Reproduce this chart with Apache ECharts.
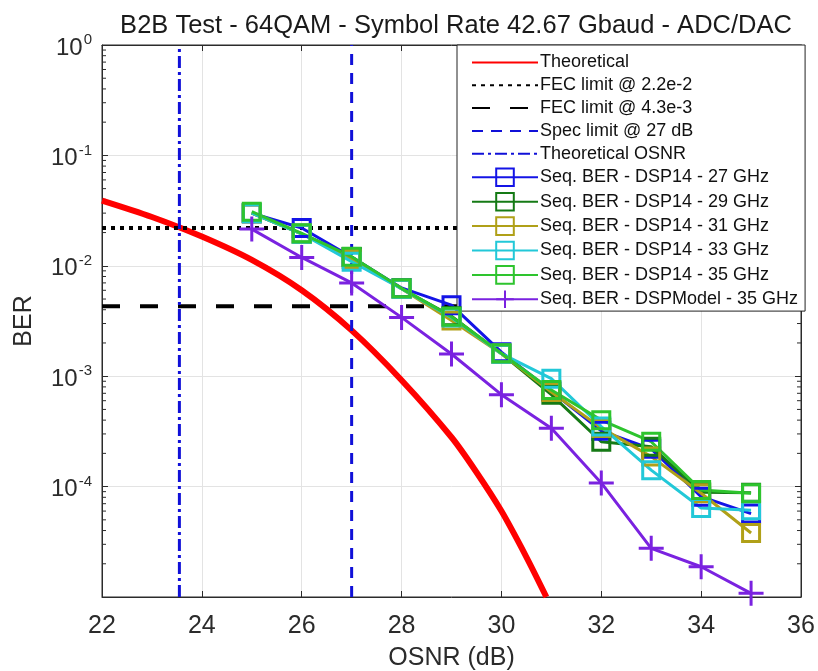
<!DOCTYPE html>
<html><head><meta charset="utf-8">
<script src="https://cdn.jsdelivr.net/npm/echarts@6/dist/echarts.min.js"></script>
<style>html,body{margin:0;padding:0;background:#fff}#c{width:818px;height:671px}</style>
</head><body><div id="c"></div>
<script>
const titleText = 'B2B Test - 64QAM - Symbol Rate 42.67 Gbaud - ADC/DAC';
const osnr = [25, 26, 27, 28, 29, 30, 31, 32, 33, 34, 35];
const theoOsnr = [22, 23, 24, 25, 26, 27, 28, 29, 29.5, 30, 30.5, 30.9];
const theoBer = [3.9e-2, 2.77e-2, 1.84e-2, 1.13e-2, 6.0e-3, 2.6e-3, 9.2e-4, 2.8e-4, 1.35e-4, 6.0e-5, 2.3e-5, 1.0e-5];
const ber27 = [3.0e-2, 2.2e-2, 1.2e-2, 6.3e-3, 4.4e-3, 1.65e-3, 7.3e-4, 3.2e-4, 2.2e-4, 8.1e-5, 5.7e-5];
const ber29 = [3.0e-2, 1.95e-2, 1.2e-2, 6.2e-3, 3.5e-3, 1.6e-3, 6.8e-4, 2.55e-4, 2.3e-4, 8.9e-5, 8.8e-5];
const ber31 = [3.0e-2, 1.95e-2, 1.15e-2, 6.2e-3, 3.2e-3, 1.6e-3, 7.2e-4, 3.4e-4, 1.87e-4, 8.7e-5, 3.8e-5];
const ber33 = [3.0e-2, 1.95e-2, 1.09e-2, 6.2e-3, 3.4e-3, 1.6e-3, 9.5e-4, 3.5e-4, 1.41e-4, 6.4e-5, 6.1e-5];
const ber35 = [3.09e-2, 1.97e-2, 1.21e-2, 6.25e-3, 3.46e-3, 1.61e-3, 7.5e-4, 4.0e-4, 2.55e-4, 9.3e-5, 8.7e-5];
const berModel = [2.15e-2, 1.19e-2, 7.0e-3, 3.41e-3, 1.59e-3, 6.8e-4, 3.37e-4, 1.08e-4, 2.76e-5, 1.88e-5, 1.08e-5];
const fecHigh = 2.2e-2;
const fecLow = 4.3e-3;
const specOsnr = 27;
const theoOsnrLimit = 23.55;
const xTicks = [22, 24, 26, 28, 30, 32, 34, 36];
const yMin = 1e-5, yMax = 1;
const minorMantissa = [2, 3, 4, 5, 6, 7, 8, 9];
const minorDecades = [-5, -4, -3, -2, -1];

const names = ['Theoretical', 'FEC limit @ 2.2e-2', 'FEC limit @ 4.3e-3', 'Spec limit @ 27 dB', 'Theoretical OSNR',
  'Seq. BER - DSP14 - 27 GHz', 'Seq. BER - DSP14 - 29 GHz', 'Seq. BER - DSP14 - 31 GHz',
  'Seq. BER - DSP14 - 33 GHz', 'Seq. BER - DSP14 - 35 GHz', 'Seq. BER - DSPModel - 35 GHz'];

const zip = (xs, ys) => xs.map((x, i) => [x, ys[i]]);
const minorVals = [];
minorDecades.forEach(d => minorMantissa.forEach(m => minorVals.push([22, m * Math.pow(10, d)])));

const font = 'Liberation Sans, Arial, sans-serif';
const txt = '#2b2b2b';
const clear = 'rgba(255,255,255,0)';

function sq(name, data, color) {
  return {
    name, type: 'line', data, symbol: 'rect', symbolSize: 17, z: 5,
    lineStyle: { color, width: 3 },
    itemStyle: { color: clear, borderColor: color, borderWidth: 3 },
    emphasis: { disabled: true }
  };
}
function plain(name, data, color, width, type, z) {
  return {
    name, type: 'line', data, symbol: 'none', z,
    lineStyle: { color, width, type },
    itemStyle: { color: clear, borderWidth: 0, opacity: 0 },
    emphasis: { disabled: true }
  };
}

const chart = echarts.init(document.getElementById('c'), null, { renderer: 'canvas' });
chart.setOption({
  animation: false,
  backgroundColor: '#fff',
  textStyle: { fontFamily: font },
  title: {
    text: titleText, left: 451, top: 8, textAlign: 'center',
    textStyle: { fontFamily: font, fontSize: 25.5, fontWeight: 'normal', color: '#1a1a1a' }
  },
  grid: { left: 102, right: 17, top: 45, bottom: 74, outerBoundsMode: 'none', containLabel: false,
    show: true, borderColor: txt, borderWidth: 1, backgroundColor: '#fff' },
  legend: {
    orient: 'vertical', left: 457, top: 45, itemWidth: 66, itemHeight: 22, itemGap: 4.8,
    padding: [8.5, 7, 2, 14], backgroundColor: '#fff', borderColor: '#222', borderWidth: 1, borderRadius: 0,
    textStyle: { fontFamily: font, fontSize: 18, color: '#111', padding: [0, 0, 0, -3] },
    data: names
  },
  xAxis: [{
    type: 'value', min: 22, max: 36, interval: 2,
    name: 'OSNR (dB)', nameLocation: 'middle', nameGap: 49,
    nameTextStyle: { fontFamily: font, fontSize: 25, color: txt },
    axisLine: { show: true, lineStyle: { color: txt } },
    axisTick: { show: true, inside: true, length: 6, lineStyle: { color: txt } },
    axisLabel: { fontFamily: font, fontSize: 25, color: txt, margin: 17 },
    splitLine: { show: true, lineStyle: { color: '#e3e3e3', width: 1 } }
  }, {
    type: 'value', min: 22, max: 36, interval: 2, position: 'top',
    axisLine: { show: true, lineStyle: { color: txt } },
    axisTick: { show: true, inside: true, length: 6, lineStyle: { color: txt } },
    axisLabel: { show: false }, splitLine: { show: false }
  }],
  yAxis: [{
    type: 'log', logBase: 10, min: yMin, max: yMax,
    name: 'BER', nameLocation: 'middle', nameGap: 65,
    nameTextStyle: { fontFamily: font, fontSize: 25, color: txt },
    axisLine: { show: true, lineStyle: { color: txt } },
    axisTick: { show: true, inside: true, length: 6, lineStyle: { color: txt } },
    axisLabel: {
      showMinLabel: false, margin: 10, color: txt,
      formatter: v => '{b|10}{s|' + Math.round(Math.log10(v)) + '}',
      rich: {
        b: { fontFamily: font, fontSize: 24, color: txt, padding: [6, 0, 0, 0] },
        s: { fontFamily: font, fontSize: 15, color: txt, padding: [0, 0, 10, 1] }
      }
    },
    splitLine: { show: true, lineStyle: { color: '#e3e3e3', width: 1 } }
  }, {
    type: 'log', logBase: 10, min: yMin, max: yMax, position: 'right',
    axisLine: { show: true, lineStyle: { color: txt } },
    axisTick: { show: true, inside: true, length: 6, lineStyle: { color: txt } },
    axisLabel: { show: false }, splitLine: { show: false }
  }],
  series: [
    Object.assign(plain(names[0], zip(theoOsnr, theoBer), '#ff0000', 6, 'solid', 3), { smooth: 0.3 }),
    plain(names[1], [[22, fecHigh], [36, fecHigh]], '#000', 4, [4, 5], 3),
    plain(names[2], [[22, fecLow], [36, fecLow]], '#000', 4, [18, 20], 3),
    plain(names[3], [[specOsnr, yMin], [specOsnr, yMax]], '#1010d8', 3, [11, 8], 3),
    plain(names[4], [[theoOsnrLimit, yMin], [theoOsnrLimit, yMax]], '#1010d8', 3, [12, 4, 3, 4], 3),
    sq(names[5], zip(osnr, ber27), '#1414e6'),
    sq(names[6], zip(osnr, ber29), '#157a15'),
    sq(names[7], zip(osnr, ber31), '#b0a018'),
    sq(names[8], zip(osnr, ber33), '#22c8d8'),
    sq(names[9], zip(osnr, ber35), '#2ec42e'),
    { name: names[10], type: 'line', data: zip(osnr, berModel), z: 6,
      symbol: 'path://M5,0L5,10M0,5L10,5', symbolSize: 25,
      lineStyle: { color: '#7a22e0', width: 3 },
      itemStyle: { color: clear, borderColor: '#7a22e0', borderWidth: 3 },
      emphasis: { disabled: true } },
    { type: 'custom', data: minorVals, silent: true, z: 2,
      renderItem: (params, api) => {
        const v = api.value(1);
        const l = api.coord([22, v]);
        const r = api.coord([36, v]);
        return { type: 'group', children: [
          { type: 'line', shape: { x1: l[0], y1: l[1], x2: l[0] + 4, y2: l[1] }, style: { stroke: txt, lineWidth: 1 } },
          { type: 'line', shape: { x1: r[0], y1: r[1], x2: r[0] - 4, y2: r[1] }, style: { stroke: txt, lineWidth: 1 } }
        ] };
      } }
  ]
});
</script></body></html>
